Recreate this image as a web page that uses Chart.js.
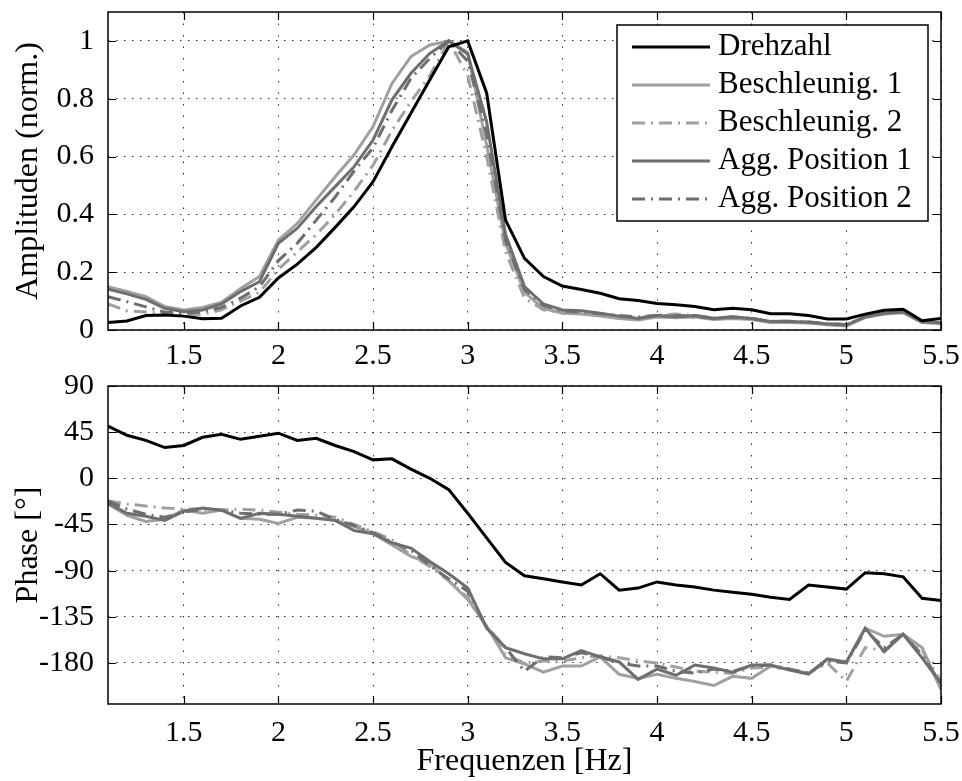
<!DOCTYPE html>
<html>
<head>
<meta charset="utf-8">
<script src="https://cdn.jsdelivr.net/npm/chart.js@4.4.1/dist/chart.umd.min.js"></script>
<style>
  html, body { margin: 0; padding: 0; background: #fff; }
  #wrap { position: relative; width: 962px; height: 781px; }
  canvas { position: absolute; left: 0; }
  #ampChart { top: 0; }
  #phaseChart { top: 365px; }
</style>
</head>
<body>
<div id="wrap">
  <canvas id="ampChart" width="962" height="365"></canvas>
  <canvas id="phaseChart" width="962" height="416"></canvas>
</div>
<script>
// frequency points [Hz]
const freq = [1.1, 1.2, 1.3, 1.4, 1.5, 1.6, 1.7, 1.8, 1.9, 2.0,
              2.1, 2.2, 2.3, 2.4, 2.5, 2.6, 2.7, 2.8, 2.9, 3.0,
              3.1, 3.2, 3.3, 3.4, 3.5, 3.6, 3.7, 3.8, 3.9, 4.0,
              4.1, 4.2, 4.3, 4.4, 4.5, 4.6, 4.7, 4.8, 4.9, 5.0,
              5.1, 5.2, 5.3, 5.4, 5.5];

const seriesNames = ['Drehzahl', 'Beschleunig. 1', 'Beschleunig. 2', 'Agg. Position 1', 'Agg. Position 2'];

// amplitudes (normalised)
const ampDrehzahl = [0.026, 0.031, 0.050, 0.052, 0.048, 0.039, 0.041, 0.083, 0.113, 0.180,
                     0.228, 0.286, 0.355, 0.427, 0.513, 0.634, 0.750, 0.866, 0.980, 1.000,
                     0.820, 0.380, 0.248, 0.185, 0.152, 0.140, 0.127, 0.108, 0.102, 0.092,
                     0.087, 0.081, 0.070, 0.075, 0.070, 0.056, 0.056, 0.050, 0.038, 0.038,
                     0.055, 0.068, 0.072, 0.032, 0.040];
const ampBeschl1 = [0.150, 0.133, 0.115, 0.081, 0.069, 0.078, 0.096, 0.144, 0.185, 0.311,
                    0.369, 0.450, 0.530, 0.606, 0.704, 0.853, 0.946, 0.986, 1.000, 0.960,
                    0.640, 0.300, 0.130, 0.075, 0.058, 0.055, 0.048, 0.040, 0.035, 0.045,
                    0.042, 0.045, 0.036, 0.040, 0.036, 0.026, 0.026, 0.024, 0.018, 0.014,
                    0.043, 0.055, 0.060, 0.026, 0.022];
const ampBeschl2 = [0.090, 0.066, 0.062, 0.058, 0.052, 0.055, 0.070, 0.100, 0.130, 0.210,
                    0.270, 0.330, 0.400, 0.480, 0.570, 0.690, 0.790, 0.880, 1.000, 0.880,
                    0.600, 0.270, 0.110, 0.070, 0.060, 0.058, 0.052, 0.045, 0.042, 0.052,
                    0.055, 0.050, 0.042, 0.045, 0.040, 0.030, 0.030, 0.028, 0.022, 0.020,
                    0.045, 0.056, 0.060, 0.028, 0.025];
const ampAgg1 = [0.141, 0.125, 0.106, 0.075, 0.063, 0.069, 0.090, 0.133, 0.167, 0.300,
                 0.352, 0.427, 0.496, 0.565, 0.657, 0.796, 0.888, 0.957, 1.000, 0.955,
                 0.720, 0.330, 0.150, 0.090, 0.069, 0.067, 0.058, 0.048, 0.040, 0.050,
                 0.046, 0.050, 0.040, 0.046, 0.040, 0.029, 0.029, 0.027, 0.021, 0.017,
                 0.046, 0.058, 0.063, 0.029, 0.025];
const ampAgg2 = [0.115, 0.098, 0.080, 0.062, 0.058, 0.063, 0.078, 0.110, 0.150, 0.240,
                 0.300, 0.380, 0.460, 0.550, 0.630, 0.760, 0.870, 0.940, 1.000, 0.930,
                 0.680, 0.310, 0.140, 0.085, 0.065, 0.062, 0.056, 0.050, 0.045, 0.050,
                 0.050, 0.048, 0.040, 0.045, 0.040, 0.030, 0.030, 0.028, 0.022, 0.018,
                 0.046, 0.058, 0.062, 0.028, 0.025];

// phases [deg]
const phaseDrehzahl = [51, 42, 37, 30, 32, 40, 43, 38, 41, 44,
                       37, 39, 32, 26, 18, 19, 9, 0, -11, -34,
                       -58, -82, -95, -98, -101, -104, -93, -109, -107, -101,
                       -104, -106, -109, -111, -113, -116, -118, -104, -106, -108,
                       -92, -93, -96, -117, -119];
const phaseBeschl1 = [-25, -36, -42, -40, -31, -34, -31, -39, -40, -44,
                      -38, -39, -41, -47, -54, -65, -76, -83, -100, -118,
                      -144, -175, -181, -189, -183, -183, -174, -191, -195, -191,
                      -195, -198, -202, -193, -195, -183, -186, -190, -177, -180,
                      -146, -154, -152, -165, -206];
const phaseBeschl2 = [-22, -25, -27, -29, -30, -30, -31, -30, -31, -33,
                      -35, -36, -38, -45, -52, -60, -75, -86, -100, -116,
                      -145, -172, -180, -178, -178, -175, -173, -175, -178, -180,
                      -184, -188, -189, -190, -185, -184, -186, -190, -180, -198,
                      -165, -168, -152, -168, -198];
const phaseAgg1 = [-24, -34, -37, -41, -32, -29, -31, -39, -34, -35,
                   -37, -39, -41, -51, -54, -63, -68, -81, -93, -107,
                   -146, -165, -171, -176, -176, -168, -174, -179, -196, -186,
                   -192, -182, -185, -189, -182, -182, -187, -191, -176, -179,
                   -146, -169, -152, -175, -200];
const phaseAgg2 = [-22, -30, -35, -38, -33, -30, -31, -34, -35, -35,
                   -31, -32, -40, -46, -53, -62, -70, -85, -98, -110,
                   -145, -165, -188, -174, -175, -170, -174, -180, -183, -183,
                   -188, -190, -186, -188, -183, -182, -186, -190, -178, -180,
                   -148, -165, -152, -172, -200];

// tick labels
const freqTicks = [1.5, 2, 2.5, 3, 3.5, 4, 4.5, 5, 5.5];
const ampTicks = [0, 0.2, 0.4, 0.6, 0.8, 1];
const phaseTicks = [-180, -135, -90, -45, 0, 45, 90];

const lineStyles = [
    { color: '#000000', dash: [], order: 0 },
    { color: '#a0a0a0', dash: [], order: 4 },
    { color: '#a0a0a0', dash: [13, 6, 2, 6], order: 3 },
    { color: '#6e6e6e', dash: [], order: 2 },
    { color: '#6e6e6e', dash: [13, 6, 2, 6], order: 1 }
];

Chart.defaults.font.family = '"Liberation Serif", "Times New Roman", serif';
Chart.defaults.font.size = 30;
Chart.defaults.color = '#000';

function makeDatasets(seriesList) {
    return seriesList.map((values, i) => ({
        label: seriesNames[i],
        data: freq.map((f, k) => ({ x: f, y: values[k] })),
        borderColor: lineStyles[i].color,
        borderDash: lineStyles[i].dash,
        borderWidth: 3,
        pointRadius: 0,
        tension: 0,
        fill: false,
        order: lineStyles[i].order
    }));
}

// frame + inward tick marks like matlab axes
const axesBox = {
    id: 'axesBox',
    afterDatasetsDraw(chart) {
        const { ctx, chartArea: a, scales: { x, y } } = chart;
        ctx.save();
        ctx.strokeStyle = '#000';
        ctx.lineWidth = 1.2;
        ctx.beginPath();
        x.ticks.forEach(t => {
            const px = Math.round(x.getPixelForValue(t.value)) + 0.5;
            ctx.moveTo(px, a.bottom); ctx.lineTo(px, a.bottom - 8);
            ctx.moveTo(px, a.top); ctx.lineTo(px, a.top + 8);
        });
        y.ticks.forEach(t => {
            const py = Math.round(y.getPixelForValue(t.value)) + 0.5;
            ctx.moveTo(a.left, py); ctx.lineTo(a.left + 8, py);
            ctx.moveTo(a.right, py); ctx.lineTo(a.right - 8, py);
        });
        ctx.stroke();
        ctx.lineWidth = 1.5;
        ctx.strokeRect(a.left, a.top, a.right - a.left, a.bottom - a.top);
        ctx.restore();
    }
};

// boxed legend inside the top axes
const boxLegend = {
    id: 'boxLegend',
    afterDraw(chart) {
        const ctx = chart.ctx;
        const box = { left: 617, top: 25, width: 311, height: 196 };
        ctx.save();
        ctx.fillStyle = '#fff';
        ctx.fillRect(box.left, box.top, box.width, box.height);
        ctx.strokeStyle = '#000';
        ctx.lineWidth = 1.5;
        ctx.strokeRect(box.left, box.top, box.width, box.height);
        chart.data.datasets.forEach((ds, i) => {
            const yy = box.top + 22 + i * 38;
            ctx.beginPath();
            ctx.strokeStyle = ds.borderColor;
            ctx.lineWidth = 3;
            ctx.setLineDash(ds.borderDash);
            ctx.moveTo(632, yy);
            ctx.lineTo(710, yy);
            ctx.stroke();
            ctx.setLineDash([]);
            ctx.fillStyle = '#000';
            ctx.font = '31px "Liberation Serif", serif';
            ctx.textBaseline = 'middle';
            ctx.textAlign = 'left';
            ctx.fillText(ds.label, 718, yy);
        });
        ctx.restore();
    }
};

function xAxis(showTitle, height, pad) {
    return {
        type: 'linear',
        min: 1.1,
        max: 5.5,
        afterBuildTicks: s => { s.ticks = freqTicks.map(v => ({ value: v })); },
        afterFit: s => { s.height = height; s.paddingLeft = 0; s.paddingRight = 0; },
        ticks: { padding: pad, maxRotation: 0, autoSkip: false, callback: v => String(v) },
        grid: { color: '#333', lineWidth: 1, drawTicks: false },
        border: { display: false, dash: [1.5, 10] },
        title: { display: showTitle, text: 'Frequenzen [Hz]', font: { size: 32 }, padding: { top: 0, bottom: 0 } }
    };
}

function yAxis(min, max, ticks, title) {
    return {
        min: min,
        max: max,
        afterBuildTicks: s => { s.ticks = ticks.map(v => ({ value: v })); },
        afterFit: s => { s.width = 108; s.paddingTop = 0; s.paddingBottom = 0; },
        ticks: { padding: 14, autoSkip: false, callback: v => String(v) },
        grid: { color: '#333', lineWidth: 1, drawTicks: false },
        border: { display: false, dash: [1.5, 6.5] },
        title: { display: true, text: title, font: { size: 32 }, padding: { top: 9, bottom: 0 } }
    };
}

const commonOptions = {
    responsive: false,
    animation: false,
    events: [],
    plugins: { legend: { display: false }, tooltip: { enabled: false } }
};

new Chart(document.getElementById('ampChart').getContext('2d'), {
    type: 'line',
    data: { datasets: makeDatasets([ampDrehzahl, ampBeschl1, ampBeschl2, ampAgg1, ampAgg2]) },
    options: Object.assign({}, commonOptions, {
        layout: { padding: { top: 12, right: 21, left: 0, bottom: 0 } },
        scales: {
            x: xAxis(false, 35, 8),
            y: yAxis(0, 1.1, ampTicks, 'Amplituden (norm.)')
        }
    }),
    plugins: [axesBox, boxLegend]
});

new Chart(document.getElementById('phaseChart').getContext('2d'), {
    type: 'line',
    data: { datasets: makeDatasets([phaseDrehzahl, phaseBeschl1, phaseBeschl2, phaseAgg1, phaseAgg2]) },
    options: Object.assign({}, commonOptions, {
        layout: { padding: { top: 21, right: 21, left: 0, bottom: 0 } },
        scales: {
            x: xAxis(true, 77, 11),
            y: yAxis(-220, 90, phaseTicks, 'Phase [°]')
        }
    }),
    plugins: [axesBox]
});
</script>
</body>
</html>
